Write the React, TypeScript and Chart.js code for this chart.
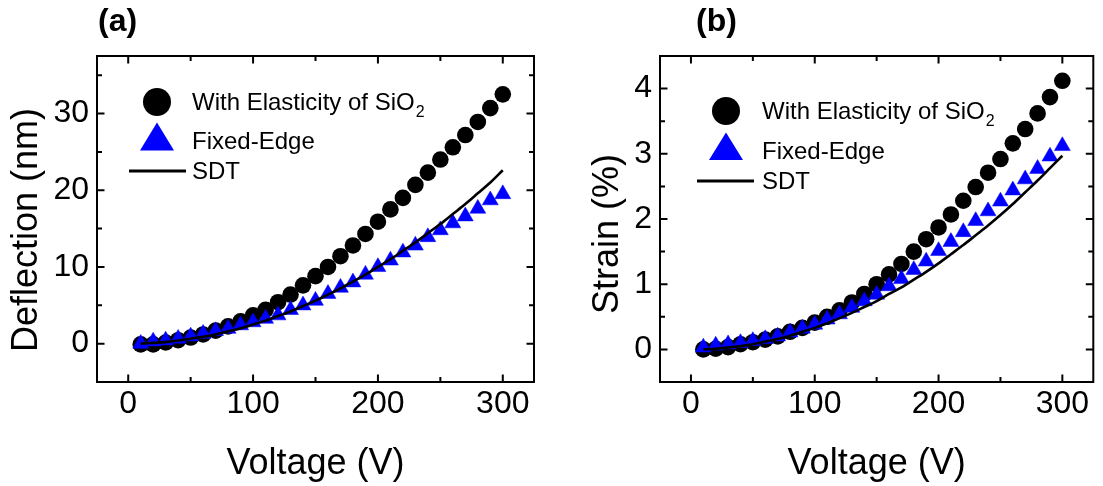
import React, { useEffect, useRef } from "react";
import { Chart, registerables } from "chart.js";

Chart.register(...registerables);

// ---------------- data ----------------
const voltage = [10, 20, 30, 40, 50, 60, 70, 80, 90, 100, 110, 120, 130, 140, 150, 160, 170, 180, 190, 200, 210, 220, 230, 240, 250, 260, 270, 280, 290, 300];

const deflectionElastic = [-0.1, -0.1, 0.15, 0.45, 0.8, 1.2, 1.7, 2.25, 2.9, 3.7, 4.4, 5.4, 6.4, 7.6, 8.8, 10.0, 11.4, 12.8, 14.3, 15.9, 17.5, 19.0, 20.7, 22.3, 24.0, 25.6, 27.2, 28.9, 30.7, 32.5];
const deflectionFixed = [0.0, 0.3, 0.43, 0.65, 0.95, 1.3, 1.65, 1.95, 2.4, 2.8, 3.25, 3.7, 4.4, 5.0, 5.6, 6.5, 7.3, 8.0, 9.0, 10.0, 10.85, 11.9, 12.8, 13.9, 14.8, 15.7, 16.6, 17.6, 18.7, 19.5];
const deflectionSDT = [0.0, 0.1, 0.2, 0.4, 0.65, 0.9, 1.2, 1.6, 2.0, 2.5, 3.0, 3.6, 4.2, 4.9, 5.6, 6.4, 7.2, 8.1, 9.0, 10.0, 11.0, 12.1, 13.2, 14.4, 15.6, 16.9, 18.2, 19.6, 21.0, 22.6];

const strainElastic = [0.0, 0.01, 0.035, 0.08, 0.11, 0.15, 0.2, 0.27, 0.33, 0.41, 0.5, 0.6, 0.72, 0.85, 1.0, 1.15, 1.31, 1.5, 1.69, 1.87, 2.07, 2.28, 2.49, 2.71, 2.92, 3.16, 3.38, 3.62, 3.87, 4.12];
const strainFixed = [0.03, 0.06, 0.08, 0.1, 0.13, 0.16, 0.2, 0.26, 0.32, 0.38, 0.46, 0.54, 0.64, 0.74, 0.84, 0.97, 1.08, 1.22, 1.35, 1.51, 1.65, 1.8, 1.97, 2.12, 2.27, 2.44, 2.61, 2.77, 2.96, 3.12];
const strainSDT = [0.0, 0.01, 0.03, 0.05, 0.08, 0.12, 0.16, 0.21, 0.27, 0.33, 0.4, 0.48, 0.56, 0.65, 0.74, 0.85, 0.95, 1.07, 1.19, 1.32, 1.46, 1.6, 1.75, 1.9, 2.06, 2.23, 2.41, 2.59, 2.78, 2.97];

const xMajorTicks = [0, 100, 200, 300];
const xMinorTicks = [50, 150, 250];
const deflectionMajorTicks = [0, 10, 20, 30];
const deflectionMinorTicks = [5, 15, 25, 35];
const strainMajorTicks = [0, 1, 2, 3, 4];
const strainMinorTicks = [0.5, 1.5, 2.5, 3.5];

const legendLabels = ["With Elasticity of SiO", "Fixed-Edge", "SDT"];
const legendSubscript = "2";
const xTitle = "Voltage (V)";

const FONT = '"Liberation Sans", Arial, sans-serif';

type PanelSpec = {
  tag: string;
  yTitle: string;
  elastic: number[];
  fixed: number[];
  sdt: number[];
  yMin: number;
  yMax: number;
  yMajor: number[];
  yMinor: number[];
  pageLeft: number;
  width: number;
  areaLeft: number;
  areaRight: number;
  labelX: number;
  yTitleX: number;
  yTitleY: number;
  lg: {
    markerX: number;
    textX: number;
    circleY: number;
    triTop: number;
    triBottom: number;
    lineY: number;
    lineX0: number;
    lineX1: number;
    baselines: number[];
  };
};

const panels: PanelSpec[] = [
  {
    tag: "(a)",
    yTitle: "Deflection (nm)",
    elastic: deflectionElastic,
    fixed: deflectionFixed,
    sdt: deflectionSDT,
    yMin: -5,
    yMax: 37.5,
    yMajor: deflectionMajorTicks,
    yMinor: deflectionMinorTicks,
    pageLeft: 0,
    width: 551,
    areaLeft: 97,
    areaRight: 534,
    labelX: 98,
    yTitleX: 37,
    yTitleY: 230,
    lg: {
      markerX: 157,
      textX: 192,
      circleY: 102,
      triTop: 122.5,
      triBottom: 150.5,
      lineY: 171,
      lineX0: 129,
      lineX1: 186,
      baselines: [110, 149, 179],
    },
  },
  {
    tag: "(b)",
    yTitle: "Strain (%)",
    elastic: strainElastic,
    fixed: strainFixed,
    sdt: strainSDT,
    yMin: -0.5,
    yMax: 4.5,
    yMajor: strainMajorTicks,
    yMinor: strainMinorTicks,
    pageLeft: 551,
    width: 552,
    areaLeft: 109,
    areaRight: 545,
    labelX: 145,
    yTitleX: 67,
    yTitleY: 234,
    lg: {
      markerX: 175,
      textX: 211,
      circleY: 111,
      triTop: 132.5,
      triBottom: 160,
      lineY: 181,
      lineX0: 146,
      lineX1: 203,
      baselines: [119, 159, 189],
    },
  },
];

const HEIGHT = 486;
const AREA_TOP = 56;
const AREA_BOTTOM = 382;

function buildChart(canvas: HTMLCanvasElement, p: PanelSpec) {
  const toXY = (arr: number[]) => voltage.map((v, i) => ({ x: v, y: arr[i] }));

  const decor = {
    id: "decor",
    beforeDatasetsDraw(chart: any) {
      const { ctx, chartArea: a, scales } = chart;
      const xs = scales.x;
      const ys = scales.y;
      ctx.save();
      ctx.strokeStyle = "#000";
      ctx.lineWidth = 2;
      ctx.strokeRect(a.left, a.top, a.right - a.left, a.bottom - a.top);
      const major = 7.5;
      const minor = 5;
      const xt = (vals: number[], len: number) =>
        vals.forEach((v) => {
          const px = xs.getPixelForValue(v);
          ctx.beginPath();
          ctx.moveTo(px, a.bottom);
          ctx.lineTo(px, a.bottom - len);
          ctx.moveTo(px, a.top);
          ctx.lineTo(px, a.top + len);
          ctx.stroke();
        });
      const yt = (vals: number[], len: number) =>
        vals.forEach((v) => {
          const py = ys.getPixelForValue(v);
          ctx.beginPath();
          ctx.moveTo(a.left, py);
          ctx.lineTo(a.left + len, py);
          ctx.moveTo(a.right, py);
          ctx.lineTo(a.right - len, py);
          ctx.stroke();
        });
      xt(xMajorTicks, major);
      xt(xMinorTicks, minor);
      yt(p.yMajor, major);
      yt(p.yMinor, minor);
      ctx.restore();
    },
    afterDraw(chart: any) {
      const { ctx, chartArea: a } = chart;
      const lg = p.lg;
      ctx.save();
      ctx.fillStyle = "#000";
      // panel label
      ctx.font = `bold 32px ${FONT}`;
      ctx.textAlign = "left";
      ctx.textBaseline = "alphabetic";
      ctx.fillText(p.tag, p.labelX, 31);
      // x title
      ctx.font = `36px ${FONT}`;
      ctx.textAlign = "center";
      ctx.fillText(xTitle, (a.left + a.right) / 2, 474);
      // y title
      ctx.save();
      ctx.translate(p.yTitleX, p.yTitleY);
      ctx.rotate(-Math.PI / 2);
      ctx.fillText(p.yTitle, 0, 0);
      ctx.restore();
      // legend markers
      ctx.beginPath();
      ctx.arc(lg.markerX, lg.circleY, 14, 0, Math.PI * 2);
      ctx.fill();
      ctx.fillStyle = "#0000ff";
      ctx.beginPath();
      ctx.moveTo(lg.markerX, lg.triTop);
      ctx.lineTo(lg.markerX - 17, lg.triBottom);
      ctx.lineTo(lg.markerX + 17, lg.triBottom);
      ctx.closePath();
      ctx.fill();
      ctx.strokeStyle = "#000";
      ctx.lineWidth = 3;
      ctx.beginPath();
      ctx.moveTo(lg.lineX0, lg.lineY);
      ctx.lineTo(lg.lineX1, lg.lineY);
      ctx.stroke();
      // legend texts
      ctx.fillStyle = "#000";
      ctx.textAlign = "left";
      ctx.font = `24px ${FONT}`;
      legendLabels.forEach((t, i) => ctx.fillText(t, lg.textX, lg.baselines[i]));
      const w = ctx.measureText(legendLabels[0]).width;
      ctx.font = `16px ${FONT}`;
      ctx.fillText(legendSubscript, lg.textX + w + 1, lg.baselines[0] + 7);
      ctx.restore();
    },
  };

  return new Chart(canvas, {
    type: "scatter",
    data: {
      datasets: [
        {
          label: legendLabels[0] + legendSubscript,
          data: toXY(p.elastic),
          pointStyle: "circle",
          pointRadius: 8.3,
          backgroundColor: "#000",
          borderColor: "#000",
          borderWidth: 0,
          order: 3,
        },
        {
          label: legendLabels[1],
          data: toXY(p.fixed),
          pointStyle: "triangle",
          pointRadius: 9.2,
          backgroundColor: "#0000ff",
          borderColor: "#0000ff",
          borderWidth: 0.5,
          order: 2,
        },
        {
          label: legendLabels[2],
          data: toXY(p.sdt),
          showLine: true,
          pointRadius: 0,
          borderColor: "#000",
          borderWidth: 2.6,
          tension: 0.3,
          order: 1,
        } as any,
      ],
    },
    options: {
      responsive: false,
      animation: false,
      events: [],
      layout: {
        padding: { top: AREA_TOP, left: 0, right: p.width - p.areaRight, bottom: 0 },
      },
      plugins: {
        legend: { display: false },
        title: { display: false },
        tooltip: { enabled: false },
      },
      scales: {
        x: {
          type: "linear",
          min: -25,
          max: 325,
          grid: { display: false, drawTicks: false },
          border: { display: false },
          ticks: {
            padding: 3,
            color: "#000",
            font: { family: FONT, size: 32, lineHeight: 1.2 },
            maxRotation: 0,
          },
          afterBuildTicks: (s: any) => {
            s.ticks = xMajorTicks.map((v) => ({ value: v }));
          },
          afterFit: (s: any) => {
            s.height = HEIGHT - AREA_BOTTOM;
          },
        },
        y: {
          type: "linear",
          min: p.yMin,
          max: p.yMax,
          grid: { display: false, drawTicks: false },
          border: { display: false },
          ticks: {
            padding: 8,
            color: "#000",
            font: { family: FONT, size: 32, lineHeight: 1.2 },
          },
          afterBuildTicks: (s: any) => {
            s.ticks = p.yMajor.map((v) => ({ value: v }));
          },
          afterFit: (s: any) => {
            s.width = p.areaLeft;
          },
        },
      },
    },
    plugins: [decor],
  } as any);
}

function Panel({ spec }: { spec: PanelSpec }) {
  const ref = useRef<HTMLCanvasElement | null>(null);
  useEffect(() => {
    if (!ref.current) return;
    const chart = buildChart(ref.current, spec);
    return () => chart.destroy();
  }, [spec]);
  return (
    <div style={{ position: "absolute", left: spec.pageLeft, top: 0, width: spec.width, height: HEIGHT }}>
      <canvas ref={ref} width={spec.width} height={HEIGHT} style={{ display: "block", width: spec.width, height: HEIGHT }} />
    </div>
  );
}

export default function App() {
  return (
    <div style={{ position: "absolute", left: 0, top: 0, width: 1103, height: HEIGHT, background: "#fff", overflow: "hidden" }}>
      {panels.map((p) => (
        <Panel key={p.tag} spec={p} />
      ))}
    </div>
  );
}
